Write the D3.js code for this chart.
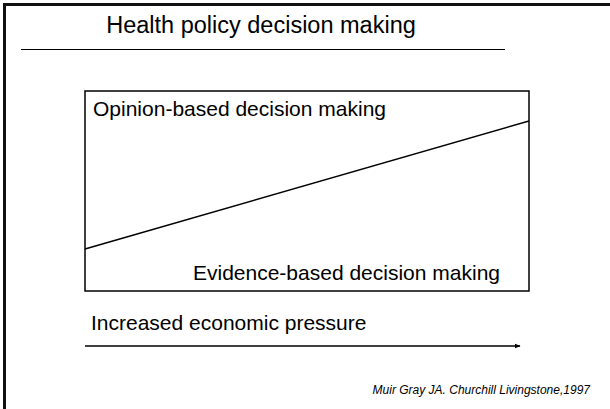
<!DOCTYPE html>
<html>
<head>
<meta charset="utf-8">
<script src="https://cdn.jsdelivr.net/npm/d3@7"></script>
<style>
  body { margin: 0; background: #fff; }
  svg text { font-family: "Liberation Sans", Arial, sans-serif; fill: #000; }
</style>
</head>
<body>
<div id="chart"></div>
<script>
// boundary between opinion-based (above) and evidence-based (below) decision making
const pressure = [0, 1];
const boundary = [0.21, 0.85];
const title = "Health policy decision making";
const upperLabel = "Opinion-based decision making";
const lowerLabel = "Evidence-based decision making";
const axisLabel = "Increased economic pressure";
const source = "Muir Gray JA. Churchill Livingstone,1997";

const width = 610, height = 409;
const box = {left: 85, top: 91, right: 529, bottom: 291};

const svg = d3.select("#chart").append("svg")
  .attr("width", width)
  .attr("height", height);

// slide frame (only top and left edges visible)
svg.append("path")
  .attr("d", "M4.5,420 L4.5,4.5 L620,4.5")
  .attr("fill", "none")
  .attr("stroke", "#111")
  .attr("stroke-width", 3);

// title + rule
svg.append("text")
  .attr("x", 261)
  .attr("y", 33)
  .attr("text-anchor", "middle")
  .style("font-size", "23.5px")
  .text(title);

svg.append("line")
  .attr("x1", 21).attr("x2", 505)
  .attr("y1", 49.5).attr("y2", 49.5)
  .attr("stroke", "#000")
  .attr("stroke-width", 1);

const x = d3.scaleLinear().domain([0, 1]).range([box.left, box.right]);
const y = d3.scaleLinear().domain([0, 1]).range([box.bottom, box.top]);

// Box
svg.append("rect")
  .attr("x", x(0)).attr("y", y(1))
  .attr("width", x(1) - x(0))
  .attr("height", y(0) - y(1))
  .attr("fill", "none")
  .attr("stroke", "#000")
  .attr("stroke-width", 1.5);

// Boundary line
const line = d3.line()
  .x((d, i) => x(pressure[i]))
  .y(d => y(d));
svg.append("path")
  .datum(boundary)
  .attr("d", line)
  .attr("fill", "none")
  .attr("stroke", "#000")
  .attr("stroke-width", 1.5);

svg.append("text")
  .attr("x", 93)
  .attr("y", 116)
  .style("font-size", "21px")
  .text(upperLabel);

svg.append("text")
  .attr("x", 500)
  .attr("y", 280)
  .attr("text-anchor", "end")
  .style("font-size", "21px")
  .text(lowerLabel);

// Economic pressure arrow
svg.append("defs").append("marker")
  .attr("id", "arrow")
  .attr("viewBox", "0 0 10 10")
  .attr("refX", 9).attr("refY", 5)
  .attr("markerWidth", 4).attr("markerHeight", 4)
  .attr("orient", "auto")
  .append("path")
  .attr("d", "M0,1 L10,5 L0,9 Z")
  .attr("fill", "#000");

svg.append("line")
  .attr("x1", x(0)).attr("x2", 520)
  .attr("y1", 346).attr("y2", 346)
  .attr("stroke", "#000")
  .attr("stroke-width", 1.5)
  .attr("marker-end", "url(#arrow)");

svg.append("text")
  .attr("x", 91)
  .attr("y", 330)
  .style("font-size", "21px")
  .text(axisLabel);

svg.append("text")
  .attr("x", 590)
  .attr("y", 394)
  .attr("text-anchor", "end")
  .style("font-size", "12px")
  .style("font-style", "italic")
  .text(source);
</script>
</body>
</html>
